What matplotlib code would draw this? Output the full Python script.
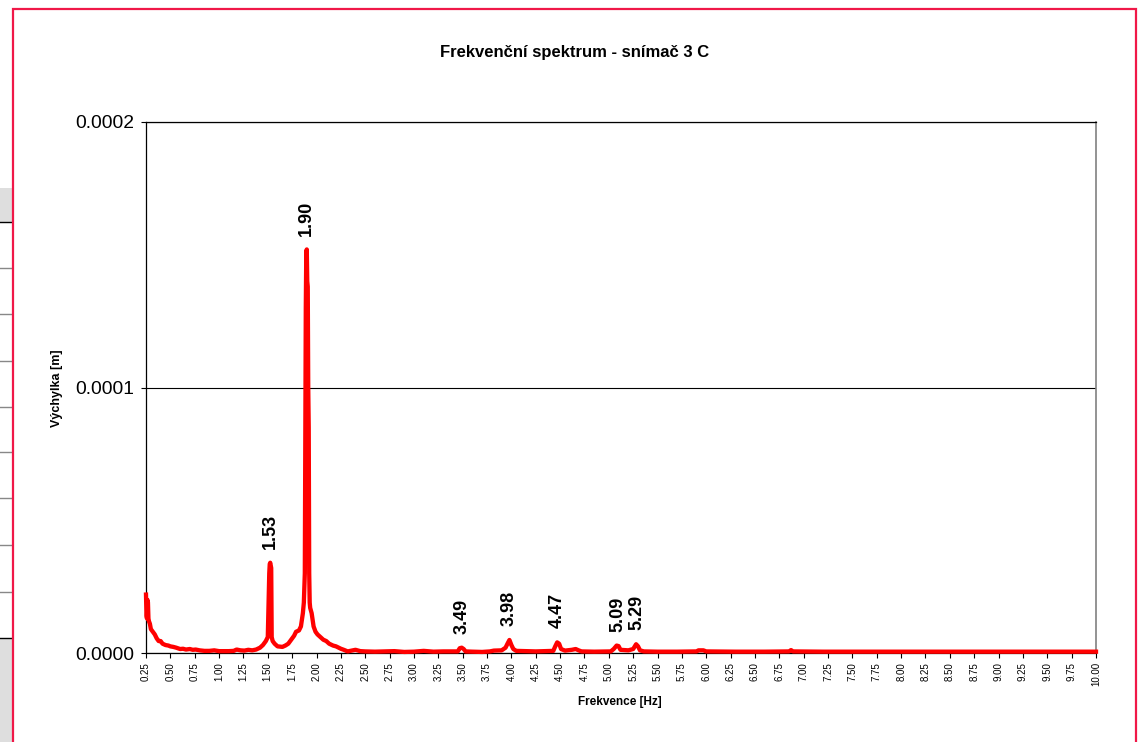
import matplotlib
matplotlib.use("Agg")
import matplotlib.pyplot as plt
from matplotlib.patches import Rectangle
from matplotlib.lines import Line2D
from matplotlib.ticker import FixedLocator, FormatStrFormatter

plt.rcParams['font.family'] = ['Liberation Sans', 'DejaVu Sans']

# Spectrum of sensor 3 C: frequency [Hz] and displacement amplitude [micrometres]
freq_hz = [
    0.25, 0.255, 0.26, 0.265, 0.27, 0.275, 0.28, 0.29, 0.30, 0.32, 0.34, 0.36,
    0.38, 0.40, 0.42, 0.45, 0.48, 0.50, 0.53, 0.56, 0.60, 0.63, 0.66, 0.70,
    0.73, 0.76, 0.80, 0.85, 0.90, 0.95, 1.00, 1.05, 1.10, 1.15, 1.18, 1.22,
    1.26, 1.30, 1.34, 1.38, 1.42, 1.45, 1.48, 1.50, 1.515, 1.52, 1.525, 1.53,
    1.535, 1.54, 1.55, 1.57, 1.60, 1.65, 1.68, 1.71, 1.74, 1.77, 1.79, 1.82,
    1.84, 1.86, 1.87, 1.88, 1.885, 1.89, 1.895, 1.90, 1.905, 1.91, 1.915, 1.92,
    1.925, 1.93, 1.935, 1.95, 1.97, 1.99, 2.01, 2.04, 2.07, 2.10, 2.13, 2.17,
    2.20, 2.25, 2.28, 2.32, 2.36, 2.40, 2.45, 2.50, 2.60, 2.70, 2.80, 2.90,
    3.00, 3.10, 3.20, 3.30, 3.40, 3.45, 3.47, 3.49, 3.51, 3.53, 3.60, 3.70,
    3.78, 3.82, 3.90, 3.94, 3.96, 3.98, 4.00, 4.02, 4.05, 4.15, 4.25, 4.35,
    4.43, 4.45, 4.47, 4.49, 4.51, 4.55, 4.62, 4.66, 4.69, 4.72, 4.85, 5.02,
    5.05, 5.08, 5.10, 5.12, 5.20, 5.25, 5.28, 5.30, 5.32, 5.36, 5.50, 5.70,
    5.90, 5.92, 5.97, 6.00, 6.30, 6.60, 6.85, 6.87, 6.89, 7.20, 7.60, 8.00,
    8.50, 9.00, 9.50, 10.00,
]
amp_um = [
    22.0, 14.0, 13.0, 20.0, 19.0, 13.0, 12.0, 11.0, 9.0, 8.0, 7.0, 5.5,
    4.5, 4.5, 3.5, 3.0, 2.8, 2.5, 2.3, 2.0, 1.5, 1.6, 1.3, 1.5,
    1.2, 1.3, 1.0, 0.8, 0.8, 1.0, 0.7, 0.7, 0.7, 0.8, 1.3, 1.0,
    0.9, 1.2, 1.0, 1.3, 2.0, 3.0, 4.5, 6.0, 30.0, 33.5, 34.0, 33.0,
    32.0, 6.0, 4.5, 3.5, 2.5, 2.3, 2.8, 3.5, 5.0, 6.5, 8.0, 8.5,
    10.0, 15.0, 19.0, 30.0, 80.0, 130.0, 151.0, 152.0, 140.0, 138.0, 100.0, 85.0,
    30.0, 19.0, 17.0, 15.0, 10.0, 8.0, 7.0, 6.0, 5.0, 4.5, 3.5, 2.8,
    2.5, 1.6, 1.2, 0.6, 0.9, 1.2, 0.7, 0.6, 0.5, 0.6, 0.7, 0.4,
    0.5, 0.8, 0.5, 0.6, 0.6, 0.6, 1.8, 2.0, 1.5, 0.6, 0.5, 0.4,
    0.6, 0.9, 1.0, 2.0, 3.5, 4.9, 3.0, 1.5, 0.8, 0.7, 0.6, 0.7,
    0.8, 2.5, 4.0, 3.5, 1.5, 0.9, 1.2, 1.5, 1.0, 0.6, 0.5, 0.6,
    1.5, 2.8, 2.6, 1.2, 1.0, 1.5, 3.3, 2.5, 1.0, 0.6, 0.5, 0.5,
    0.6, 1.0, 1.0, 0.6, 0.5, 0.5, 0.6, 1.1, 0.6, 0.5, 0.5, 0.5,
    0.5, 0.5, 0.5, 0.5,
]

# Labelled peaks: frequency [Hz] and amplitude [micrometres]
peak_hz = [1.53, 1.90, 3.49, 3.98, 4.47, 5.09, 5.29]
peak_um = [34.0, 152.0, 2.0, 4.9, 4.0, 2.8, 3.3]

x_ticks = [0.25 * i for i in range(1, 41)]
y_ticks = [0.0, 0.0001, 0.0002]

W, H = 1144, 742
fig = plt.figure(figsize=(W / 100, H / 100), dpi=100)
fig.patch.set_facecolor('white')


def fx(px):
    return px / W


def fy(py):
    return 1 - py / H


# neighbouring page content at the left edge
fig.patches.append(Rectangle((0, fy(222)), fx(12), fy(188) - fy(222),
                             transform=fig.transFigure, facecolor='#dedede',
                             edgecolor='none', zorder=0))
fig.patches.append(Rectangle((0, 0), fx(12), fy(638),
                             transform=fig.transFigure, facecolor='#dedede',
                             edgecolor='none', zorder=0))
for py, col in [(222, 'black'), (268, '#888888'), (314, '#888888'),
                (361, '#888888'), (407, '#888888'), (452, '#888888'),
                (498, '#888888'), (545, '#888888'), (592, '#888888'),
                (638, 'black')]:
    fig.lines.append(Line2D([0, fx(12)], [fy(py), fy(py)],
                            transform=fig.transFigure, color=col, lw=1))

# chart frame
fig.patches.append(Rectangle((fx(13), fy(760)), fx(1136) - fx(13), fy(9) - fy(760),
                             transform=fig.transFigure, facecolor='none',
                             edgecolor='#f01848', lw=1.6, zorder=5))

ax = fig.add_axes([fx(146), fy(653), fx(1096) - fx(146), fy(122) - fy(653)])
ax.set_facecolor('none')

freq = freq_hz
amp = [a * 1e-6 for a in amp_um]
ax.plot(freq, amp, color='#ff0000', lw=3.1, solid_joinstyle='round', zorder=3,
        clip_on=False)

for f, a in zip(peak_hz, peak_um):
    ax.annotate(f"{f:.2f}", xy=(f, a * 1e-6), xytext=(0, 10),
                textcoords='offset points', rotation=90, ha='center',
                va='bottom', fontsize=13, fontweight='bold')

ax.set_xlim(0.25, 10.0)
ax.set_ylim(0, 0.0002)

ax.xaxis.set_major_locator(FixedLocator(x_ticks))
ax.xaxis.set_major_formatter(FormatStrFormatter('%.2f'))
ax.yaxis.set_major_locator(FixedLocator(y_ticks))
ax.yaxis.set_major_formatter(FormatStrFormatter('%.4f'))

ax.tick_params(axis='x', direction='out', length=3.5, width=0.8, pad=3,
               labelsize=7, labelrotation=90)
ax.tick_params(axis='y', direction='out', length=3.5, width=0.8, pad=5,
               labelsize=13.9)

ax.grid(axis='y', color='black', lw=0.8)
ax.set_axisbelow(True)
for side in ['left', 'bottom', 'top']:
    ax.spines[side].set_color('black')
    ax.spines[side].set_linewidth(0.9)
ax.spines['right'].set_color('#808080')
ax.spines['right'].set_linewidth(1.2)

fig.text(fx(57), fy(388), 'Výchylka [m]', rotation=90, ha='center', va='center',
         fontsize=9, fontweight='bold')
fig.text(fx(620), fy(702), 'Frekvence [Hz]', ha='center', va='center',
         fontsize=8.5, fontweight='bold')
fig.text(fx(575), fy(52), 'Frekvenční spektrum - snímač 3 C', ha='center',
         va='center', fontsize=12, fontweight='bold')

fig.savefig('out.png', dpi=100)
